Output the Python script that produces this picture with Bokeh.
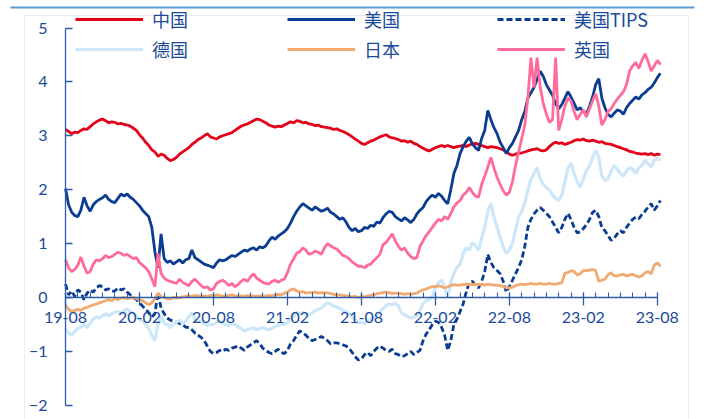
from bokeh.plotting import figure
from bokeh.models import Range1d, LinearAxis, FixedTicker, Legend, LegendItem, ColumnDataSource
from bokeh.embed import file_html
from bokeh.resources import INLINE

# ---------------- data (10Y yields, %, roughly weekly, from 2019-08) ----------------
china = [
    3.12, 3.08, 3.04, 3.07, 3.06, 3.10, 3.13, 3.12, 3.17, 3.22, 3.26, 3.29,
    3.31, 3.28, 3.24, 3.26, 3.25, 3.22, 3.23, 3.21, 3.20, 3.18, 3.14, 3.10,
    3.02, 2.96, 2.88, 2.82, 2.74, 2.70, 2.62, 2.66, 2.64, 2.58, 2.54, 2.56,
    2.60, 2.66, 2.70, 2.74, 2.78, 2.84, 2.88, 2.93, 2.96, 3.00, 3.04, 2.98,
    2.96, 2.94, 2.98, 3.00, 3.02, 3.04, 3.06, 3.10, 3.14, 3.18, 3.20, 3.22,
    3.25, 3.28, 3.31, 3.30, 3.27, 3.24, 3.20, 3.18, 3.16, 3.18, 3.17, 3.20,
    3.23, 3.26, 3.24, 3.28, 3.27, 3.24, 3.25, 3.22, 3.21, 3.19, 3.20, 3.17,
    3.16, 3.15, 3.14, 3.12, 3.13, 3.10, 3.08, 3.05, 3.02, 2.98, 2.94, 2.90,
    2.86, 2.84, 2.87, 2.90, 2.92, 2.95, 2.98, 3.00, 3.02, 2.98, 2.96, 2.95,
    2.93, 2.90, 2.91, 2.88, 2.90, 2.86, 2.84, 2.80, 2.77, 2.74, 2.72, 2.75,
    2.78, 2.80, 2.82, 2.80, 2.82, 2.80, 2.78, 2.80, 2.81, 2.82, 2.80, 2.83,
    2.85, 2.86, 2.84, 2.82, 2.80, 2.78, 2.80, 2.79, 2.78, 2.76, 2.74, 2.70,
    2.66, 2.64, 2.66, 2.68, 2.68, 2.70, 2.72, 2.74, 2.75, 2.76, 2.73, 2.72,
    2.74, 2.80, 2.85, 2.88, 2.86, 2.87, 2.84, 2.86, 2.88, 2.91, 2.93, 2.92,
    2.94, 2.91, 2.90, 2.92, 2.90, 2.88, 2.89, 2.86, 2.85, 2.84, 2.82, 2.80,
    2.78, 2.76, 2.74, 2.71, 2.70, 2.68, 2.67, 2.66, 2.67, 2.65, 2.67, 2.64,
    2.66, 2.65,
]
usa = [
    2.02, 1.72, 1.58, 1.52, 1.50, 1.62, 1.86, 1.70, 1.60, 1.72, 1.78, 1.82,
    1.85, 1.90, 1.82, 1.78, 1.76, 1.84, 1.92, 1.88, 1.92, 1.86, 1.82, 1.76,
    1.70, 1.62, 1.56, 1.50, 1.30, 0.85, 0.55, 1.18, 0.72, 0.65, 0.68, 0.62,
    0.66, 0.70, 0.64, 0.70, 0.72, 0.88, 0.74, 0.70, 0.66, 0.62, 0.60, 0.58,
    0.55, 0.64, 0.70, 0.68, 0.70, 0.74, 0.78, 0.76, 0.80, 0.84, 0.88, 0.86,
    0.90, 0.92, 0.88, 0.94, 0.92, 0.96, 1.05, 1.12, 1.08, 1.14, 1.18, 1.22,
    1.28, 1.38, 1.50, 1.60, 1.68, 1.74, 1.70, 1.66, 1.62, 1.68, 1.64, 1.60,
    1.62, 1.66, 1.58, 1.55, 1.50, 1.45, 1.48, 1.40, 1.30, 1.24, 1.28, 1.22,
    1.24, 1.30, 1.28, 1.34, 1.32, 1.40, 1.38, 1.48, 1.55, 1.60, 1.58, 1.50,
    1.46, 1.42, 1.48, 1.44, 1.39, 1.45, 1.55, 1.62, 1.67, 1.78, 1.85, 1.90,
    1.86, 1.93, 1.88, 1.80, 1.74, 2.00, 2.30, 2.45, 2.67, 2.80, 2.90, 2.97,
    2.85, 2.78, 2.73, 2.95, 3.10, 3.47, 3.30, 3.15, 3.04, 2.88, 2.78, 2.67,
    2.78, 2.86, 2.98, 3.10, 3.30, 3.45, 3.70, 3.80, 3.90, 4.05, 4.20, 4.10,
    3.95, 3.85, 3.75, 3.60, 3.50, 3.58, 3.70, 3.82, 3.72, 3.60, 3.48, 3.52,
    3.45, 3.40, 3.55, 3.72, 3.95, 4.06, 3.70, 3.52, 3.40, 3.35, 3.42, 3.48,
    3.46, 3.40, 3.52, 3.60, 3.66, 3.72, 3.68, 3.76, 3.80, 3.86, 3.90, 3.98,
    4.08, 4.16,
]
usa_tips = [
    0.25, 0.05, 0.12, 0.02, 0.14, 0.10, -0.04, 0.08, 0.14, 0.10, 0.18, 0.22,
    0.20, 0.14, 0.16, 0.12, 0.12, 0.18, 0.14, 0.16, 0.10, 0.05, 0.00, -0.04,
    -0.10, -0.16, -0.22, -0.28, -0.36, -0.30, 0.10, -0.20, -0.30, -0.38, -0.42, -0.44,
    -0.46, -0.48, -0.50, -0.55, -0.56, -0.60, -0.66, -0.70, -0.74, -0.80, -0.90, -1.00,
    -1.04, -1.02, -0.98, -1.00, -0.96, -0.98, -0.94, -0.92, -0.90, -0.94, -0.98, -0.92,
    -0.88, -0.84, -0.80, -0.86, -0.94, -0.98, -1.02, -1.04, -1.00, -0.96, -1.02, -1.04,
    -0.98, -0.86, -0.80, -0.70, -0.62, -0.66, -0.70, -0.76, -0.80, -0.78, -0.76, -0.72,
    -0.76, -0.80, -0.86, -0.84, -0.84, -0.86, -0.88, -0.90, -0.94, -1.02, -1.10, -1.16,
    -1.14, -1.06, -1.02, -1.08, -1.00, -0.94, -0.90, -0.94, -0.98, -1.00, -0.96, -1.04,
    -1.06, -1.10, -1.08, -1.04, -1.00, -1.06, -1.02, -0.98, -0.80, -0.68, -0.60, -0.50,
    -0.44, -0.46, -0.55, -0.70, -0.98, -0.80, -0.50, -0.40, -0.26, -0.12, 0.10, 0.28,
    0.30, 0.22, 0.18, 0.30, 0.48, 0.80, 0.65, 0.55, 0.50, 0.44, 0.30, 0.10,
    0.20, 0.32, 0.44, 0.56, 0.70, 0.95, 1.30, 1.45, 1.55, 1.62, 1.67, 1.62,
    1.56, 1.50, 1.40, 1.30, 1.20, 1.30, 1.45, 1.56, 1.45, 1.30, 1.20, 1.22,
    1.28, 1.35, 1.45, 1.58, 1.62, 1.50, 1.30, 1.24, 1.15, 1.06, 1.10, 1.18,
    1.24, 1.20, 1.30, 1.38, 1.45, 1.49, 1.46, 1.54, 1.60, 1.68, 1.74, 1.62,
    1.70, 1.80,
]
germany = [
    -0.58, -0.66, -0.70, -0.62, -0.58, -0.55, -0.50, -0.56, -0.48, -0.40, -0.36, -0.38,
    -0.34, -0.30, -0.34, -0.30, -0.28, -0.26, -0.30, -0.24, -0.22, -0.26, -0.30, -0.36,
    -0.40, -0.44, -0.50, -0.58, -0.70, -0.80, -0.50, -0.34, -0.48, -0.50, -0.56, -0.50,
    -0.46, -0.42, -0.48, -0.44, -0.36, -0.28, -0.40, -0.44, -0.46, -0.48, -0.52, -0.50,
    -0.50, -0.46, -0.44, -0.48, -0.50, -0.52, -0.48, -0.50, -0.54, -0.58, -0.62, -0.60,
    -0.58, -0.56, -0.60, -0.57, -0.56, -0.58, -0.60, -0.57, -0.54, -0.52, -0.50, -0.50,
    -0.46, -0.40, -0.34, -0.28, -0.30, -0.28, -0.30, -0.32, -0.29, -0.24, -0.22, -0.20,
    -0.14, -0.10, -0.12, -0.16, -0.18, -0.20, -0.24, -0.26, -0.30, -0.36, -0.42, -0.46,
    -0.46, -0.48, -0.44, -0.40, -0.36, -0.32, -0.26, -0.20, -0.15, -0.12, -0.14, -0.10,
    -0.16, -0.28, -0.32, -0.35, -0.38, -0.36, -0.34, -0.24, -0.12, -0.06, -0.04, 0.02,
    0.18, 0.28, 0.32, 0.20, 0.00, 0.28, 0.45, 0.56, 0.62, 0.82, 0.92, 0.88,
    1.02, 0.96, 0.88, 1.10, 1.30, 1.60, 1.74, 1.50, 1.30, 1.12, 0.94, 0.82,
    0.88, 1.00, 1.25, 1.49, 1.60, 1.75, 2.00, 2.20, 2.30, 2.41, 2.20, 2.10,
    2.04, 2.00, 1.90, 1.84, 1.80, 1.90, 2.15, 2.40, 2.49, 2.30, 2.15, 2.05,
    2.20, 2.35, 2.45, 2.60, 2.73, 2.60, 2.25, 2.17, 2.20, 2.35, 2.45, 2.38,
    2.30, 2.25, 2.35, 2.41, 2.38, 2.30, 2.40, 2.45, 2.55, 2.48, 2.42, 2.55,
    2.58, 2.54,
]
japan = [
    -0.14, -0.22, -0.26, -0.24, -0.22, -0.24, -0.20, -0.18, -0.16, -0.14, -0.12, -0.10,
    -0.08, -0.06, -0.04, -0.06, -0.02, -0.04, -0.01, 0.00, -0.02, -0.01, 0.00, -0.02,
    -0.04, -0.06, -0.10, -0.13, -0.10, -0.02, 0.08, 0.02, 0.00, -0.02, -0.03, 0.00,
    -0.01, 0.00, 0.01, 0.02, 0.03, 0.02, 0.04, 0.03, 0.02, 0.03, 0.02, 0.04,
    0.03, 0.05, 0.04, 0.02, 0.03, 0.04, 0.05, 0.03, 0.02, 0.03, 0.02, 0.04,
    0.02, 0.03, 0.02, 0.03, 0.02, 0.03, 0.04, 0.03, 0.05, 0.06, 0.05, 0.08,
    0.10, 0.14, 0.16, 0.12, 0.10, 0.11, 0.08, 0.09, 0.09, 0.10, 0.08, 0.09,
    0.08, 0.09, 0.07, 0.06, 0.05, 0.05, 0.04, 0.03, 0.02, 0.01, 0.02, 0.00,
    0.02, 0.01, 0.03, 0.04, 0.05, 0.07, 0.08, 0.09, 0.10, 0.09, 0.07, 0.08,
    0.08, 0.07, 0.06, 0.07, 0.06, 0.07, 0.08, 0.12, 0.14, 0.16, 0.18, 0.20,
    0.20, 0.22, 0.20, 0.18, 0.20, 0.22, 0.24, 0.23, 0.23, 0.24, 0.25, 0.24,
    0.24, 0.25, 0.24, 0.25, 0.23, 0.25, 0.24, 0.23, 0.23, 0.22, 0.20, 0.18,
    0.18, 0.19, 0.22, 0.24, 0.25, 0.24, 0.25, 0.26, 0.25, 0.25, 0.26, 0.25,
    0.25, 0.26, 0.25, 0.25, 0.26, 0.27, 0.45, 0.46, 0.50, 0.48, 0.42, 0.44,
    0.50, 0.50, 0.51, 0.52, 0.50, 0.30, 0.32, 0.34, 0.42, 0.46, 0.40, 0.40,
    0.42, 0.43, 0.40, 0.42, 0.43, 0.40, 0.38, 0.40, 0.46, 0.48, 0.44, 0.60,
    0.64, 0.58,
]
uk = [
    0.70, 0.55, 0.48, 0.52, 0.60, 0.75, 0.58, 0.45, 0.48, 0.62, 0.70, 0.68,
    0.72, 0.78, 0.74, 0.76, 0.80, 0.84, 0.82, 0.78, 0.80, 0.76, 0.72, 0.74,
    0.65, 0.60, 0.55, 0.48, 0.35, 0.20, 0.82, 0.45, 0.36, 0.32, 0.30, 0.28,
    0.26, 0.34, 0.28, 0.25, 0.22, 0.30, 0.34, 0.28, 0.22, 0.18, 0.20, 0.14,
    0.16, 0.26, 0.30, 0.32, 0.28, 0.22, 0.26, 0.20, 0.24, 0.30, 0.34, 0.30,
    0.38, 0.44, 0.36, 0.32, 0.28, 0.26, 0.25, 0.30, 0.32, 0.28, 0.32, 0.34,
    0.46, 0.62, 0.72, 0.82, 0.85, 0.92, 0.88, 0.80, 0.82, 0.86, 0.84, 0.80,
    0.92, 1.00, 0.96, 0.92, 0.90, 0.84, 0.78, 0.76, 0.72, 0.66, 0.62, 0.58,
    0.58, 0.55, 0.60, 0.62, 0.68, 0.74, 0.80, 0.98, 1.02, 1.10, 1.18, 1.05,
    0.95, 0.88, 0.92, 0.82, 0.76, 0.72, 0.74, 0.95, 1.05, 1.15, 1.22, 1.30,
    1.38, 1.45, 1.42, 1.50, 1.45, 1.56, 1.68, 1.75, 1.80, 1.90, 1.95, 2.04,
    1.95, 1.88, 1.86, 2.10, 2.25, 2.42, 2.60, 2.40, 2.23, 2.10, 1.98, 1.90,
    1.95, 2.15, 2.45, 2.70, 2.95, 3.20, 3.70, 4.45, 3.90, 4.45, 3.90, 3.60,
    3.40, 3.25, 3.30, 4.45, 3.10, 3.30, 3.55, 3.70, 3.65, 3.45, 3.30, 3.40,
    3.48, 3.35, 3.50, 3.65, 3.78, 3.55, 3.20, 3.30, 3.45, 3.50, 3.60, 3.68,
    3.75, 3.82, 3.95, 4.20, 4.30, 4.36, 4.25, 4.40, 4.52, 4.38, 4.20, 4.30,
    4.40, 4.32,
]

y_ticks = [-2, -1, 0, 1, 2, 3, 4, 5]
x_tick_months = [0, 6, 12, 18, 24, 30, 36, 42, 48]
x_tick_labels = ["19-08", "20-02", "20-08", "21-02", "21-08", "22-02", "22-08", "23-02", "23-08"]
x_minor_months = list(range(49))

# ---------------- styling ----------------
TXT = "#1B4A9A"
AX = "#2F5CA6"
C_CN, C_US, C_DE, C_JP, C_UK = "#E2001A", "#0A3D91", "#CBE7F9", "#F2AA70", "#FF6B9B"
PX_X, X0 = 12.33, 65.0   # px per month, px of month 0
PX_Y, Y0 = 53.9, 297.0   # px per unit, px of value 0
W, H = 704, 419

p = figure(width=W, height=H, output_backend="svg", toolbar_location=None,
           x_range=Range1d(-X0 / PX_X, (W - X0) / PX_X),
           y_range=Range1d((Y0 - H) / PX_Y, Y0 / PX_Y),
           x_axis_type=None, y_axis_type=None, min_border=0)
p.outline_line_color = None
p.background_fill_color = "white"
p.border_fill_color = "white"

# decorative page frame and top rule of the original document
p.quad(left=(24 - X0) / PX_X, right=(688 - X0) / PX_X, top=(Y0 - 15) / PX_Y, bottom=(Y0 - 440) / PX_Y,
       fill_alpha=0, line_color="#EDEDED", line_width=1)
p.segment(x0=(10 - X0) / PX_X, x1=(694 - X0) / PX_X, y0=(Y0 - 7) / PX_Y, y1=(Y0 - 7) / PX_Y,
          line_color="#5B9BD5", line_width=2)

def src(vals):
    return ColumnDataSource(dict(x=[i / 4 for i in range(len(vals))], y=vals))

lw = 2.8
r_cn = p.line("x", "y", source=src(china), line_color=C_CN, line_width=lw)
r_us = p.line("x", "y", source=src(usa), line_color=C_US, line_width=lw)
r_tips = p.line("x", "y", source=src(usa_tips), line_color=C_US, line_width=lw, line_dash="6 3")
r_de = p.line("x", "y", source=src(germany), line_color=C_DE, line_width=lw + 0.4)
r_jp = p.line("x", "y", source=src(japan), line_color=C_JP, line_width=lw)
r_uk = p.line("x", "y", source=src(uk), line_color=C_UK, line_width=lw)

# axes
yaxis = LinearAxis(fixed_location=0, bounds=(-2, 5), ticker=FixedTicker(ticks=y_ticks, minor_ticks=[]),
                   major_tick_in=7, major_tick_out=0, minor_tick_line_color=None,
                   axis_line_color=AX, axis_line_width=1.3, major_tick_line_color=AX, major_tick_line_width=1.3,
                   major_label_text_font="Lato", major_label_text_font_size="16px",
                   major_label_text_color=TXT, major_label_standoff=18)
p.add_layout(yaxis, "left")

xaxis = LinearAxis(fixed_location=0, bounds=(0, 48),
                   ticker=FixedTicker(ticks=x_tick_months, minor_ticks=x_minor_months),
                   major_label_overrides={m: lab for m, lab in zip(x_tick_months, x_tick_labels)},
                   major_tick_in=5, major_tick_out=8, minor_tick_in=5, minor_tick_out=0,
                   axis_line_color=AX, axis_line_width=1.3, major_tick_line_color=AX, major_tick_line_width=1.3,
                   minor_tick_line_color=AX, minor_tick_line_width=1.1,
                   major_label_text_font="Lato", major_label_text_font_size="16px",
                   major_label_text_color=TXT, major_label_standoff=6)
p.add_layout(xaxis, "below")

# legends: three columns of two rows (location = bottom-left corner, px from bottom-left)
LEG_TOP, LEG_H = 18, 44
cols = [
    (75, [("中国", r_cn), ("德国", r_de)]),
    (287, [("美国", r_us), ("日本", r_jp)]),
    (497, [("美国TIPS", r_tips), ("英国", r_uk)]),
]
for x_px, items in cols:
    leg = Legend(items=[LegendItem(label=l, renderers=[r]) for l, r in items],
                 location=(x_px, H - LEG_TOP - LEG_H), orientation="vertical",
                 glyph_width=68, glyph_height=20, label_height=20, label_standoff=9, spacing=4,
                 padding=0, margin=0, border_line_color=None, background_fill_alpha=0,
                 label_text_font="Noto Sans CJK SC", label_text_font_size="18px",
                 label_text_color=TXT)
    p.add_layout(leg)

open("out.html", "w").write(file_html(p, INLINE))
